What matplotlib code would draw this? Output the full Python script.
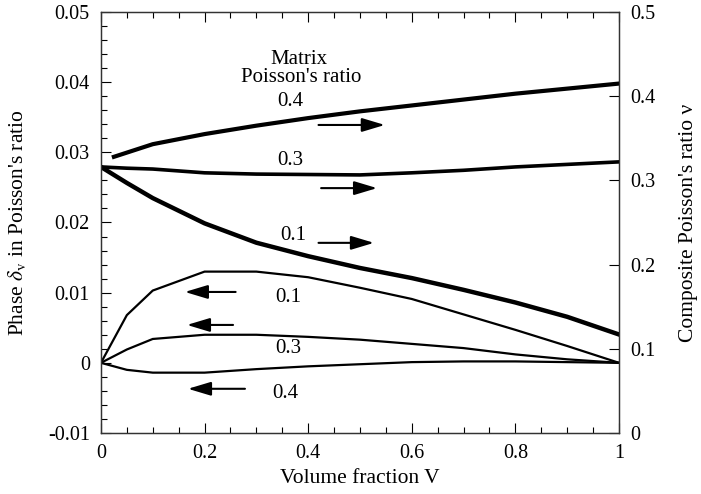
import numpy as np
import matplotlib
matplotlib.use("Agg")
import matplotlib.pyplot as plt
from matplotlib.ticker import MultipleLocator, FuncFormatter

plt.rcParams['font.family'] = ['Liberation Serif', 'DejaVu Serif']
plt.rcParams['mathtext.fontset'] = 'stix'

# volume fraction V
V = [0, 0.05, 0.1, 0.2, 0.3, 0.4, 0.5, 0.6, 0.7, 0.8, 0.9, 1.0]

# composite Poisson's ratio (right axis), matrix ratio 0.4 / 0.3 / 0.1
V_04 = [0.025, 0.1, 0.2, 0.3, 0.4, 0.5, 0.6, 0.7, 0.8, 0.9, 1.0]
nu_04 = [0.328, 0.343, 0.355, 0.365, 0.374, 0.382, 0.389, 0.396, 0.403, 0.409, 0.415]
nu_03 = [0.316, 0.3145, 0.3135, 0.309, 0.3075, 0.307, 0.3065, 0.309, 0.312, 0.316, 0.319, 0.322]
nu_01 = [0.316, 0.297, 0.279, 0.249, 0.226, 0.210, 0.196, 0.184, 0.170, 0.155, 0.138, 0.117]

# phase delta_v (left axis)
d_01 = [0, 0.0068, 0.0103, 0.0130, 0.0130, 0.0122, 0.0107, 0.0091, 0.0069, 0.0047, 0.0024, 0.0]
d_03 = [0, 0.0019, 0.0034, 0.0040, 0.0040, 0.0037, 0.0033, 0.0027, 0.0021, 0.0012, 0.0005, 0.0]
d_04 = [0, -0.0010, -0.0014, -0.0014, -0.0009, -0.0005, -0.0002, 0.0001, 0.0002, 0.0002, 0.0001, 0.0]

fig = plt.figure(figsize=(7.01, 4.94), dpi=100)
ax = fig.add_axes([0.144, 0.1235, 0.739, 0.8522])
ax2 = ax.twinx()

# thin curves: phase
ax.plot(V, d_01, color='black', lw=1.6)
ax.plot(V, d_03, color='black', lw=1.6)
ax.plot(V, d_04, color='black', lw=1.6)

# thick curves: composite ratio
ax2.plot(V_04, nu_04, color='black', lw=3.0)
ax2.plot(V, nu_03, color='black', lw=2.6)
ax2.plot(V, nu_01, color='black', lw=3.2)

ax.set_xlim(0, 1)
ax.set_ylim(-0.01, 0.05)
ax2.set_ylim(0, 0.5)

fmt = FuncFormatter(lambda v, p: '0' if abs(v) < 1e-9 else ('1' if abs(v - 1) < 1e-9 else ('%g' % v)))
ax.xaxis.set_major_locator(MultipleLocator(0.2))
ax.xaxis.set_minor_locator(MultipleLocator(0.05))
ax.yaxis.set_major_locator(MultipleLocator(0.01))
ax.yaxis.set_minor_locator(MultipleLocator(0.002))
ax.xaxis.set_major_formatter(fmt)
ax.yaxis.set_major_formatter(fmt)
ax2.yaxis.set_major_locator(MultipleLocator(0.1))
ax2.yaxis.set_major_formatter(fmt)

ax.tick_params(axis='x', which='both', direction='in', top=True, labelsize=14.5, pad=8)
ax.tick_params(axis='y', which='both', direction='in', right=False, labelsize=14.5, pad=8)
ax.tick_params(which='major', length=7, width=0.8)
ax.tick_params(which='minor', length=4, width=0.8)
ax2.tick_params(axis='y', direction='in', length=7, width=0.8, labelsize=14.5, pad=8)

for a in (ax, ax2):
    for s in a.spines.values():
        s.set_linewidth(0.9)
        s.set_color('#333333')

ax.set_xlabel('Volume fraction V', fontsize=15.5, labelpad=4)
ax.set_ylabel(r"Phase $\delta_{\rm v}$ in Poisson's ratio", fontsize=15.5, labelpad=14)
ax2.set_ylabel("Composite Poisson's ratio \u03bd", fontsize=15.5, labelpad=17)

# text labels
tfs = 15
ax.text(0.382, 0.0432, 'Matrix', fontsize=tfs, ha='center', va='center')
ax.text(0.386, 0.0406, "Poisson's ratio", fontsize=tfs, ha='center', va='center')
ax.text(0.365, 0.0372, '0.4', fontsize=tfs, ha='center', va='center')
ax.text(0.365, 0.0289, '0.3', fontsize=tfs, ha='center', va='center')
ax.text(0.371, 0.0182, '0.1', fontsize=tfs, ha='center', va='center')
ax.text(0.361, 0.0093, '0.1', fontsize=tfs, ha='center', va='center')
ax.text(0.361, 0.0021, '0.3', fontsize=tfs, ha='center', va='center')
ax.text(0.355, -0.0044, '0.4', fontsize=tfs, ha='center', va='center')

# arrows pointing to the axis each curve belongs to
arrows = [((0.42, 0.0339), (0.548, 0.0339)),
          ((0.425, 0.0249), (0.533, 0.0249)),
          ((0.42, 0.0171), (0.527, 0.0171)),
          ((0.26, 0.0101), (0.162, 0.0101)),
          ((0.255, 0.0054), (0.166, 0.0054)),
          ((0.278, -0.0037), (0.168, -0.0037))]
for start, end in arrows:
    ax.annotate('', xy=end, xytext=start,
                arrowprops=dict(arrowstyle='-|>,head_length=1.4,head_width=0.42',
                                color='black', lw=1.5, shrinkA=0, shrinkB=0))

fig.savefig('out.png', dpi=100)
